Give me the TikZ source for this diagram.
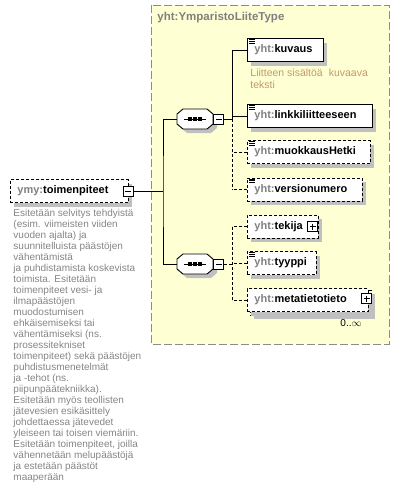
\documentclass[tikz,border=0pt]{standalone}
\usepackage{fontspec}
\setmainfont{Liberation Sans}
\usepackage{xcolor}
\usepackage{tikz}
\usetikzlibrary{positioning,shadows}
\definecolor{typefill}{HTML}{FFFFD4}
\definecolor{typeedge}{HTML}{8C8C8C}
\definecolor{pfxgray}{HTML}{808080}
\definecolor{docgray}{HTML}{858585}
\definecolor{doctan}{HTML}{C09A6B}
\definecolor{shadowgray}{HTML}{C0C0C0}

\begin{document}
\begin{tikzpicture}[x=1pt, y=-1pt, line width=0.9pt,
    every node/.style={font=\fontsize{10}{12}\selectfont},
    shadowed/.style={drop shadow={shadow xshift=4pt, shadow yshift=-4pt, fill=shadowgray, opacity=1}},
    elem/.style={draw, fill=white, anchor=west, minimum height=23, inner xsep=7, inner ysep=0,
        text width={#1pt-14pt}, align=left, font=\fontsize{11}{13}\selectfont\bfseries, shadowed},
    optional/.style={dash pattern=on 3pt off 2pt},
    seq/.style={minimum width=36, minimum height=20, inner sep=0},
    minusbox/.style={draw, fill=white, solid, minimum size=10, inner sep=0,
        path picture={\draw ([xshift=2]path picture bounding box.west) -- ([xshift=-2]path picture bounding box.east);}},
    plusbox/.style={minusbox,
        path picture={
            \draw ([xshift=2]path picture bounding box.west) -- ([xshift=-2]path picture bounding box.east);
            \draw ([yshift=-2]path picture bounding box.north) -- ([yshift=2]path picture bounding box.south);}},
    doc/.style={anchor=north west, align=left, inner sep=0, font=\fontsize{10}{11}\selectfont}
]

\useasboundingbox (0,0) rectangle (400,490);

% Complex type box
\draw[fill=typefill, draw=typeedge, dash pattern=on 8pt off 3pt] (151,5) rectangle (389,344);
\node[anchor=west, inner sep=0, text=pfxgray, font=\fontsize{11.5}{14}\selectfont\bfseries] (typename) at (157,18) {yht:YmparistoLiiteType};

% Root element
\node[elem=118, optional] (main) at (10,191) {\textcolor{pfxgray}{ymy:}toimenpiteet};
\node[minusbox] (mainminus) at ([xshift=-0.5]main.east) {};
\node[doc, text=docgray] (maindoc) at (13,208.5) {
    Esitetään selvitys tehdyistä\\
    (esim. viimeisten viiden\\
    vuoden ajalta) ja\\
    suunnitelluista päästöjen\\
    vähentämistä\\
    ja puhdistamista koskevista\\
    toimista. Esitetään\\
    toimenpiteet vesi- ja\\
    ilmapäästöjen\\
    muodostumisen\\
    ehkäisemiseksi tai\\
    vähentämiseksi (ns.\\
    prosessitekniset\\
    toimenpiteet) sekä päästöjen\\
    puhdistusmenetelmät\\
    ja -tehot (ns.\\
    piipunpäätekniikka).\\
    Esitetään myös teollisten\\
    jätevesien esikäsittely\\
    johdettaessa jätevedet\\
    yleiseen tai toisen viemäriin.\\
    Esitetään toimenpiteet, joilla\\
    vähennetään melupäästöjä\\
    ja estetään päästöt\\
    maaperään};

% Sequences
\node[seq] (seqa) at (195,119) {};
\node[seq] (seqb) at (195,264) {};
\foreach \s in {seqa,seqb} {
    \fill[shadowgray] ([shift={(4,4)}]\s.center) +(-18,-5) -- +(-12,-10) -- +(12,-10) -- +(18,-5)
        -- +(18,5) -- +(12,10) -- +(-12,10) -- +(-18,5) -- cycle;
    \draw[fill=white] (\s.center) +(-18,-5) -- +(-12,-10) -- +(12,-10) -- +(18,-5)
        -- +(18,5) -- +(12,10) -- +(-12,10) -- +(-18,5) -- cycle;
    \draw (\s.center) +(-11,0) -- +(11,0);
    \foreach \dx in {-5,0,5}
        \fill ([xshift=\dx]\s.center) +(-1.8,-1.8) rectangle +(1.8,1.8);
}
\node[minusbox, anchor=west] (seqaminus) at (seqa.east) {};
\node[minusbox, anchor=west] (seqbminus) at (seqb.east) {};

% First sequence children
\node[elem=76] (kuvaus) at (247,50) {\textcolor{pfxgray}{yht:}kuvaus};
\node[doc, text=doctan, font=\fontsize{10.5}{11.5}\selectfont] (kuvausdoc) at (250,68.5) {Liitteen sisältöä\hspace{6pt}kuvaava\\teksti};
\node[elem=125] (linkki) at (247,116) {\textcolor{pfxgray}{yht:}linkkiliitteeseen};
\node[elem=123, optional] (muokkaus) at (247,152) {\textcolor{pfxgray}{yht:}muokkausHetki};
\node[elem=115, optional] (versio) at (247,189.5) {\textcolor{pfxgray}{yht:}versionumero};

% Second sequence children
\node[elem=71, optional] (tekija) at (247,226.5) {\textcolor{pfxgray}{yht:}tekija};
\node[plusbox] (tekijaplus) at ([xshift=-6]tekija.east) {};
\node[elem=69, optional] (tyyppi) at (247,263) {\textcolor{pfxgray}{yht:}tyyppi};
\draw[optional, fill=white, drop shadow={shadow xshift=4pt, shadow yshift=-4pt, fill=shadowgray, opacity=1}] (250,290) rectangle (371,315);
\node[elem=121, optional] (meta) at (247,300) {\textcolor{pfxgray}{yht:}metatietotieto};
\node[plusbox] (metaplus) at ([xshift=-2, yshift=1.5]meta.east) {};
\node[anchor=north, inner sep=0, font=\fontsize{10}{11}\selectfont] (metacard) at (351,319) {0..$\infty$};

% Documentation marks
\foreach \n in {kuvaus,linkki,muokkaus,versio,tyyppi}
    \foreach \k in {0,1,2}
        \draw[line width=0.6pt] ([xshift=2, yshift=-1.5-1.7*\k]\n.north west) -- ++(6,0);

% Connectors from root
\coordinate (trunk) at (163,191);
\draw (mainminus.east) -- (trunk);
\draw (seqa.west) -| (trunk) |- (seqb.west);

% Connectors of first sequence
\coordinate (spinea) at (232,119);
\draw (seqaminus.east) -- (spinea);
\draw (kuvaus.west) -- (kuvaus.west -| spinea) -- (spinea);
\draw (linkki.west) -- (linkki.west -| spinea);
\draw[optional] (spinea) -- (versio.west -| spinea);
\draw[optional] (muokkaus.west) -- (muokkaus.west -| spinea);
\draw[optional] (versio.west) -- (versio.west -| spinea);

% Connectors of second sequence
\coordinate (spineb) at (232,264);
\draw[optional] (seqbminus.east) -- (spineb);
\draw[optional] (tekija.west -| spineb) -- (meta.west -| spineb);
\draw[optional] (tekija.west) -- (tekija.west -| spineb);
\draw[optional] (tyyppi.west) -- (tyyppi.west -| spineb);
\draw[optional] (meta.west) -- (meta.west -| spineb);

\end{tikzpicture}
\end{document}
